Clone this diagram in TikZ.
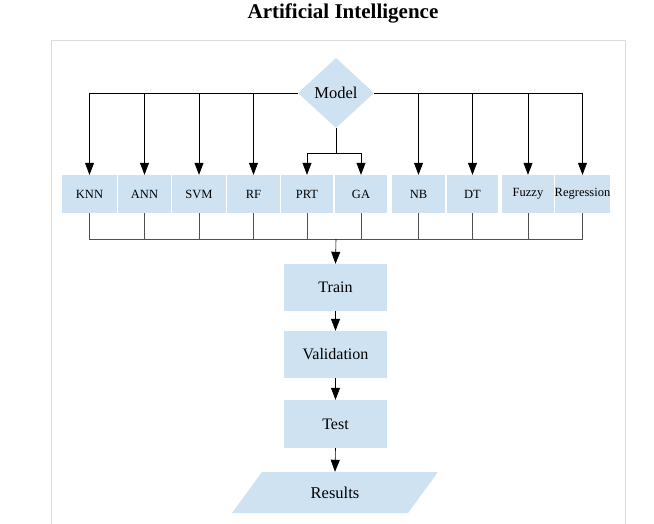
\documentclass[tikz,border=0pt]{standalone}
\usepackage{fontspec}
\setmainfont{Liberation Serif}
\usetikzlibrary{arrows.meta,shapes.geometric}
\definecolor{boxblue}{RGB}{206,226,241}
\definecolor{framegray}{RGB}{220,220,220}
\definecolor{linegray}{RGB}{80,80,80}
\begin{document}
\begin{tikzpicture}[x=1pt,y=-1pt,
  small/.style={rectangle,fill=boxblue,minimum height=38pt,inner sep=0pt,
    font=\fontsize{12.5}{14}\selectfont},
  flow/.style={rectangle,fill=boxblue,minimum width=103pt,inner sep=0pt,
    font=\fontsize{16}{18}\selectfont},
  arr/.style={-{Triangle[width=9pt,length=12pt]},line width=0.6pt},
  conn/.style={line width=0.6pt,draw=linegray}]
\useasboundingbox (0,0) rectangle (654,524);
\fill[white] (0,0) rectangle (654,524);
% frame
\draw[framegray,line width=1pt] (51,524) -- (51,41) -- (625,41) -- (625,524);
% title
\node[font=\fontsize{21}{24}\selectfont\bfseries] (title) at (343,13) {Artificial Intelligence};
% model
\node[diamond,fill=boxblue,minimum width=76pt,minimum height=70pt,inner sep=0pt,
  font=\fontsize{16.5}{18}\selectfont] (model) at (336,93) {Model};
% algorithm boxes
\node[small,minimum width=55pt] (knn) at (89.5,194) {KNN};
\node[small,minimum width=53pt] (ann) at (144.5,194) {ANN};
\node[small,minimum width=54pt] (svm) at (199,194) {SVM};
\node[small,minimum width=53pt] (rf) at (253.5,194) {RF};
\node[small,minimum width=52pt] (prt) at (307,194) {PRT};
\node[small,minimum width=52pt] (ga) at (361,194) {GA};
\node[small,minimum width=53pt] (nb) at (418.5,194) {NB};
\node[small,minimum width=51pt] (dt) at (472.5,194) {DT};
\node[small,minimum width=52pt] (fuzzy) at (528,194) {Fuzzy};
\node[small,minimum width=55pt] (regr) at (582.5,194) {Regression};
% flow boxes
\node[flow,minimum height=47pt] (train) at (335.5,287.5) {Train};
\node[flow,minimum height=47pt] (valid) at (335.5,354.5) {Validation};
\node[flow,minimum height=48pt] (test) at (335.5,424) {Test};
% results parallelogram
\coordinate (rc) at (335,492.5);
\fill[boxblue] ([shift={(-73,-20.5)}]rc) -- ([shift={(103,-20.5)}]rc)
  -- ([shift={(73,20.5)}]rc) -- ([shift={(-103,20.5)}]rc) -- cycle;
\node[rectangle,minimum width=176pt,minimum height=41pt,inner sep=0pt,
  font=\fontsize{16.5}{18}\selectfont] (res) at (rc) {Results};
% connectors from model
\foreach \n in {knn,ann,svm,rf}
  \draw[arr] (model.west) -| (\n.north);
\foreach \n in {nb,dt,fuzzy,regr}
  \draw[arr] (model.east) -| (\n.north);
\coordinate (split) at (336,153);
\draw[line width=0.6pt] (model.south) -- (split);
\draw[arr] (split) -| (prt.north);
\draw[arr] (split) -| (ga.north);
% joining
\coordinate (join) at (336,239);
\foreach \n in {knn,ann,svm,rf,prt,ga,nb,dt,fuzzy,regr}
  \draw[conn] (\n.south) |- (join);
\draw[arr] (join) -- (train.north);
\draw[arr] (train.south) -- (valid.north);
\draw[arr] (valid.south) -- (test.north);
\draw[arr] (test.south) -- (res.north);
\end{tikzpicture}
\end{document}
